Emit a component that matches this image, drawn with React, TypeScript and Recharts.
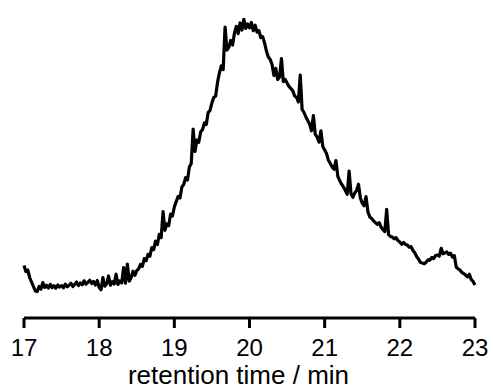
import { LineChart, Line, XAxis, YAxis, Label } from 'recharts'

// detector signal, one value every 0.025 min from 17.000 to 23.000 (arbitrary units)
const signal: number[] = [
    // 17.0 - 17.475
    17.5, 15.5, 16, 13.5, 12, 10.5, 9, 8.8, 10.5, 9.6, 11.8, 10.2, 10.9, 10, 11.2, 10.1, 10.8, 9.9, 11, 10.3,
    // 17.5 - 17.975
    10.8, 10.1, 11.3, 10.4, 10.9, 11.6, 10.5, 11.2, 12, 10.8, 11.7, 11.1, 12.4, 11.3, 11.9, 12.6, 11.5, 12.2, 11, 12.5,
    // 18.0 - 18.475
    10.2, 9.4, 13.5, 10.6, 11.4, 14, 10.9, 12.1, 11.3, 14.6, 11.2, 12.4, 11.7, 16.8, 11.6, 18, 12.3, 13.4, 15.6, 14.2,
    // 18.5 - 18.975
    15.8, 16.4, 17.9, 17.2, 19.8, 19.1, 21.2, 20.6, 23.5, 22.8, 25.6, 24.5, 27.9, 26.8, 35.5, 29.2, 31.4, 30.8, 34.6, 34,
    // 19.0 - 19.475
    37, 38.8, 40.5, 40, 43.7, 44.5, 46.8, 46, 50.3, 51.5, 63, 55.5, 59.3, 58.6, 62, 62.8, 65, 64.5, 68.5, 69.2,
    // 19.5 - 19.975
    71.7, 73.5, 74, 78.6, 81.7, 84, 82.8, 97, 89.3, 90.2, 92.5, 91, 95, 97.2, 94.8, 98.4, 96, 99.6, 96.5, 98,
    // 20.0 - 20.475
    96.7, 98.5, 95.8, 97.6, 95.3, 95.8, 93.5, 93.8, 91.7, 89, 87, 86.2, 84.5, 80.8, 83.2, 79.5, 80.3, 86.5, 78.8, 79.5,
    // 20.5 - 20.975
    78.3, 77.2, 76.5, 75.8, 74, 73.6, 72, 81, 69.5, 68.5, 67, 65.8, 64.6, 62.4, 67.5, 61.2, 60.3, 58.6, 62.4, 57.2,
    // 21.0 - 21.475
    56, 54.8, 52.6, 51.5, 50.3, 49.6, 52.5, 47.2, 45.8, 44.6, 43.7, 42.5, 41.2, 49, 41.5, 40.2, 41.7, 42.5, 44.6, 40,
    // 21.5 - 21.975
    38.3, 37.4, 40.5, 35.4, 33.7, 33.2, 32.4, 31.8, 31.2, 31.8, 30.3, 29.5, 28.8, 36.2, 27.8, 27.2, 27, 26.4, 26.8, 25.8,
    // 22.0 - 22.475
    25.3, 24.6, 25.2, 24.5, 24.3, 23.6, 23.8, 22.5, 21.7, 20.4, 19.6, 18.5, 18.3, 18.1, 18.6, 19.4, 19.3, 20.2, 19.8, 20.8,
    // 22.5 - 22.975
    21, 20.6, 23.2, 21.4, 21.7, 22, 21.2, 21.6, 20.3, 20.8, 17, 16.4, 16, 15.2, 14.8, 14.3, 13.7, 14.6, 12.8, 12.2,
    // 23.0
    11,
]

const startTime = 17
const timeStep = 0.025
const xTicks = [17, 18, 19, 20, 21, 22, 23]

const data = signal.map((v, i) => ({ t: +(startTime + i * timeStep).toFixed(3), v }))

const AxisTitle = (props: any) => {
    const vb = props.viewBox
    return (
        <text
            x={vb.x + vb.width / 2 - 11}
            y={vb.y + vb.height - 5}
            textAnchor="middle"
            fontFamily="Arial, 'Liberation Sans', sans-serif"
            fontSize={26}
            fill="#000"
        >
            retention time / min
        </text>
    )
}

export default function App() {
    return (
        <div style={{ position: 'absolute', left: 0, top: 0, background: '#fff' }}>
            <LineChart width={493} height={389} data={data} margin={{ top: 18, right: 18, left: 24, bottom: 0 }}>
                <XAxis
                    dataKey="t"
                    type="number"
                    domain={[17, 23]}
                    ticks={xTicks}
                    height={71}
                    axisLine={{ stroke: '#000', strokeWidth: 3 }}
                    tickLine={{ stroke: '#000', strokeWidth: 3 }}
                    tickSize={10}
                    tickMargin={11}
                    tick={{ fill: '#000', fontSize: 24, fontFamily: "Arial, 'Liberation Sans', sans-serif" }}
                >
                    <Label content={AxisTitle} />
                </XAxis>
                <YAxis hide domain={[0, 100]} allowDataOverflow />
                <Line
                    type="linear"
                    dataKey="v"
                    stroke="#000"
                    strokeWidth={3.2}
                    strokeLinejoin="round"
                    dot={false}
                    isAnimationActive={false}
                />
            </LineChart>
        </div>
    )
}
